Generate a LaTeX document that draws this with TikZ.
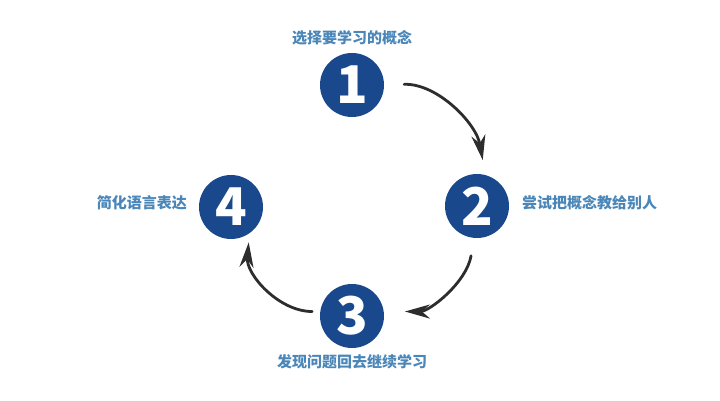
\documentclass[tikz,border=0pt]{standalone}
\usepackage{fontspec}
\setmainfont{Noto Sans CJK SC}
\usepackage{tikz}
\usetikzlibrary{arrows.meta, positioning}

\definecolor{azul}{RGB}{26,72,140}
\definecolor{rotulo}{RGB}{74,134,184}
\definecolor{trazo}{RGB}{45,45,45}

\begin{document}
\begin{tikzpicture}[x=1pt, y=1pt,
        paso/.style={circle, fill=azul, text=white, minimum size=64pt, inner sep=0pt, font=\fontsize{52}{52}\selectfont\bfseries},
        rotulo/.style={text=rotulo, inner sep=0pt, font=\fontsize{15}{17}\selectfont\bfseries},
        flecha/.style={-{Stealth[length=25pt, width=14pt, inset=8pt]}, line width=2.8pt, draw=trazo, line cap=round}]
        \useasboundingbox (0,0) rectangle (720,400);
        \node[paso] (P1) at (352, 315) {1};
        \node[paso] (P2) at (477, 194) {2};
        \node[paso] (P3) at (352, 84) {3};
        \node[paso] (P4) at (231, 193) {4};
        \node[rotulo] (T1) at (352, 362) {选择要学习的概念};
        \node[rotulo, anchor=west] (T2) at (522, 197) {尝试把概念教给别人};
        \node[rotulo] (T3) at (352, 38) {发现问题回去继续学习};
        \node[rotulo, anchor=east] (T4) at (187, 197) {简化语言表达};
        % ciclo
        \draw[flecha, shorten <=20pt, shorten >=15pt] (P1.east) to[out=2, in=100] (P2.75);
        \draw[flecha, shorten <=18pt, shorten >=21pt] (P2.265) to[out=-100, in=0] (P3.8);
        \draw[flecha, shorten <=8pt, shorten >=9pt] (P3.172) to[out=180, in=-95] (P4.-55);
    \end{tikzpicture}
\end{document}
